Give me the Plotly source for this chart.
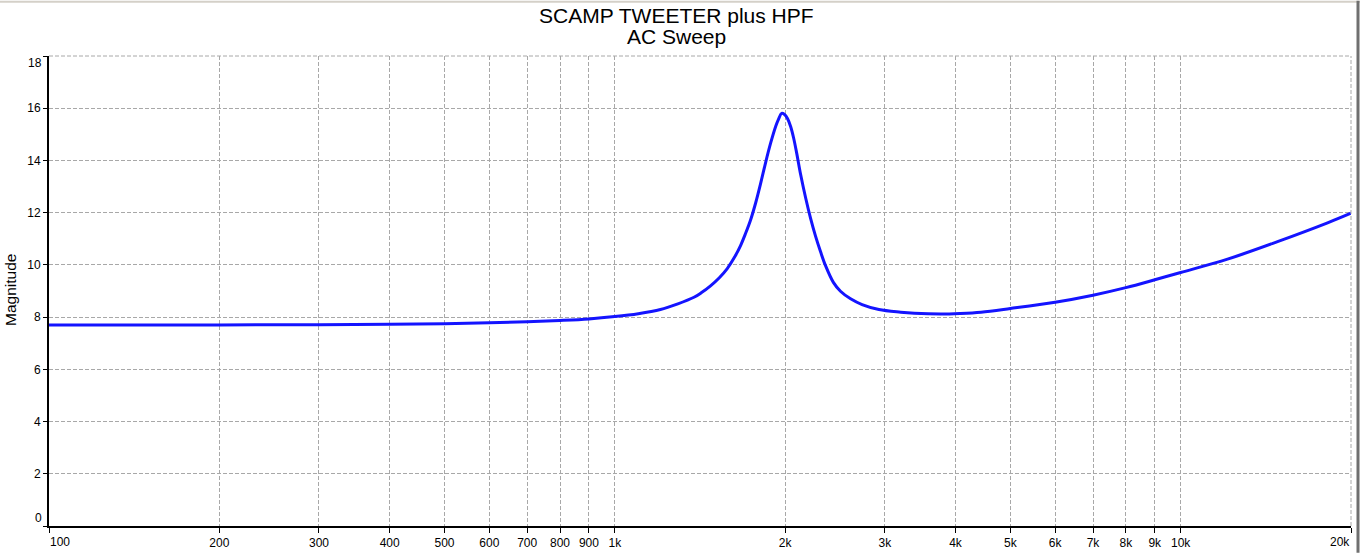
import plotly.graph_objects as go
import math

# ---- data ----
freq_hz = [100, 200, 300, 400, 500, 600, 700, 800, 900, 1000, 1100, 1204, 1289, 1380, 1421,
           1476, 1530, 1580, 1630, 1668, 1702, 1738, 1774, 1810, 1847, 1885, 1924, 1947, 1971,
           1995, 2020, 2045, 2070, 2096, 2130, 2174, 2218, 2263, 2310, 2357, 2435, 2505, 2610,
           2735, 2929, 3200, 3383, 3766, 4070, 4438, 5000, 6000, 7000, 8000, 9000, 10000,
           12100, 14833, 18180, 20000]
magnitude = [7.70, 7.70, 7.71, 7.73, 7.75, 7.78, 7.82, 7.87, 7.93, 8.02, 8.13, 8.29, 8.50, 8.76, 8.93,
             9.20, 9.51, 9.86, 10.32, 10.74, 11.20, 11.73, 12.38, 13.12, 13.92, 14.66, 15.30, 15.58, 15.80,
             15.76, 15.60, 15.30, 14.86, 14.28, 13.46, 12.56, 11.78, 11.10, 10.50, 9.97, 9.32, 8.99, 8.70,
             8.48, 8.29, 8.19, 8.15, 8.12, 8.14, 8.19, 8.33, 8.57, 8.84, 9.13, 9.43, 9.71,
             10.22, 10.89, 11.61, 11.98]

x_tickvals = [100, 200, 300, 400, 500, 600, 700, 800, 900, 1000, 2000, 3000, 4000, 5000,
              6000, 7000, 8000, 9000, 10000, 20000]
x_ticktext = ["100", "200", "300", "400", "500", "600", "700", "800", "900", "1k", "2k", "3k",
              "4k", "5k", "6k", "7k", "8k", "9k", "10k", "20k"]
y_tickvals = [0, 2, 4, 6, 8, 10, 12, 14, 16, 18]
y_ticktext = ["0", "2", "4", "6", "8", "10", "12", "14", "16", "18"]

title_line1 = "SCAMP TWEETER plus HPF"
title_line2 = "AC Sweep"
y_title = "Magnitude"

# ---- figure ----
W, H = 1360, 559
ML, MR, MT, MB = 49, 9, 56, 27
PW, PH = W - ML - MR, H - MT - MB


def px_to_paper_x(px):
    return (px - ML) / PW


def px_to_paper_y(py):
    return (H - MB - py) / PH


# end labels are drawn inward (as in the reference), so hide them on the axis itself
x_ticktext_axis = ["" if i in (0, len(x_ticktext) - 1) else t for i, t in enumerate(x_ticktext)]
y_ticktext_axis = ["" if i in (0, len(y_ticktext) - 1) else t for i, t in enumerate(y_ticktext)]

fig = go.Figure()
fig.add_trace(go.Scatter(
    x=freq_hz, y=magnitude, mode="lines",
    line=dict(color="#1414ff", width=3, shape="spline", smoothing=1.0),
    hoverinfo="x+y", showlegend=False,
))

font = dict(family="Arial, Liberation Sans, sans-serif", color="black")

fig.update_layout(
    width=W, height=H,
    margin=dict(l=ML, r=MR, t=MT, b=MB, pad=0),
    paper_bgcolor="white", plot_bgcolor="white",
    font=dict(**font, size=12),
    xaxis=dict(
        type="log", range=[math.log10(100), math.log10(20000)],
        tickvals=x_tickvals, ticktext=x_ticktext_axis,
        showgrid=True, gridcolor="#a8a8a8", gridwidth=1, griddash="4px,2px",
        showline=True, linecolor="black", linewidth=2,
        ticks="outside", ticklen=5, tickcolor="black", tickwidth=1,
        tickfont=dict(**font, size=12), zeroline=False, mirror=False,
    ),
    yaxis=dict(
        range=[0, 18], tickvals=y_tickvals, ticktext=y_ticktext_axis,
        showgrid=True, gridcolor="#a8a8a8", gridwidth=1, griddash="4px,2px",
        showline=True, linecolor="black", linewidth=2,
        ticks="outside", ticklen=4, tickcolor="black", tickwidth=1,
        tickfont=dict(**font, size=12), zeroline=False, mirror=False,
    ),
)

# end tick labels, placed inward like the reference
fig.add_annotation(text=x_ticktext[0], xref="x", yref="paper",
                   x=math.log10(x_tickvals[0]), y=px_to_paper_y(548), xanchor="left", yanchor="middle",
                   showarrow=False, font=dict(**font, size=12), xshift=-1)
fig.add_annotation(text=x_ticktext[-1], xref="x", yref="paper",
                   x=math.log10(x_tickvals[-1]), y=px_to_paper_y(548), xanchor="right", yanchor="middle",
                   showarrow=False, font=dict(**font, size=12), xshift=1)
fig.add_annotation(text=y_ticktext[0], xref="paper", yref="y",
                   x=px_to_paper_x(44), y=y_tickvals[0], xanchor="right", yanchor="middle",
                   showarrow=False, font=dict(**font, size=12), yshift=8)
fig.add_annotation(text=y_ticktext[-1], xref="paper", yref="y",
                   x=px_to_paper_x(44), y=y_tickvals[-1], xanchor="right", yanchor="middle",
                   showarrow=False, font=dict(**font, size=12), yshift=-7)

# title lines
fig.add_annotation(text=title_line1, xref="paper", yref="paper",
                   x=px_to_paper_x(676), y=px_to_paper_y(15), xanchor="center", yanchor="middle",
                   showarrow=False, font=dict(**font, size=21))
fig.add_annotation(text=title_line2, xref="paper", yref="paper",
                   x=px_to_paper_x(676), y=px_to_paper_y(36), xanchor="center", yanchor="middle",
                   showarrow=False, font=dict(**font, size=21))
# y axis title
fig.add_annotation(text=y_title, xref="paper", yref="paper",
                   x=px_to_paper_x(10), y=px_to_paper_y(293), xanchor="center", yanchor="middle",
                   textangle=-90, showarrow=False, font=dict(**font, size=15.5))

# plot frame (dashed top/right borders) and window edges
fig.add_shape(type="line", xref="paper", yref="paper", x0=0, x1=1, y0=1, y1=1,
              line=dict(color="#a8a8a8", width=1, dash="4px,2px"))
fig.add_shape(type="line", xref="paper", yref="paper", x0=1, x1=1, y0=0, y1=1,
              line=dict(color="#a8a8a8", width=1, dash="4px,2px"))
fig.add_shape(type="line", xref="paper", yref="paper",
              x0=px_to_paper_x(0), x1=px_to_paper_x(W), y0=px_to_paper_y(1), y1=px_to_paper_y(1),
              line=dict(color="#d4d0c8", width=2))
fig.add_shape(type="line", xref="paper", yref="paper",
              x0=px_to_paper_x(1358), x1=px_to_paper_x(1358), y0=px_to_paper_y(0), y1=px_to_paper_y(H),
              line=dict(color="#707070", width=3))

fig.write_html("out.html", config={"displayModeBar": False},
               post_script="document.body.style.margin='0px';")
